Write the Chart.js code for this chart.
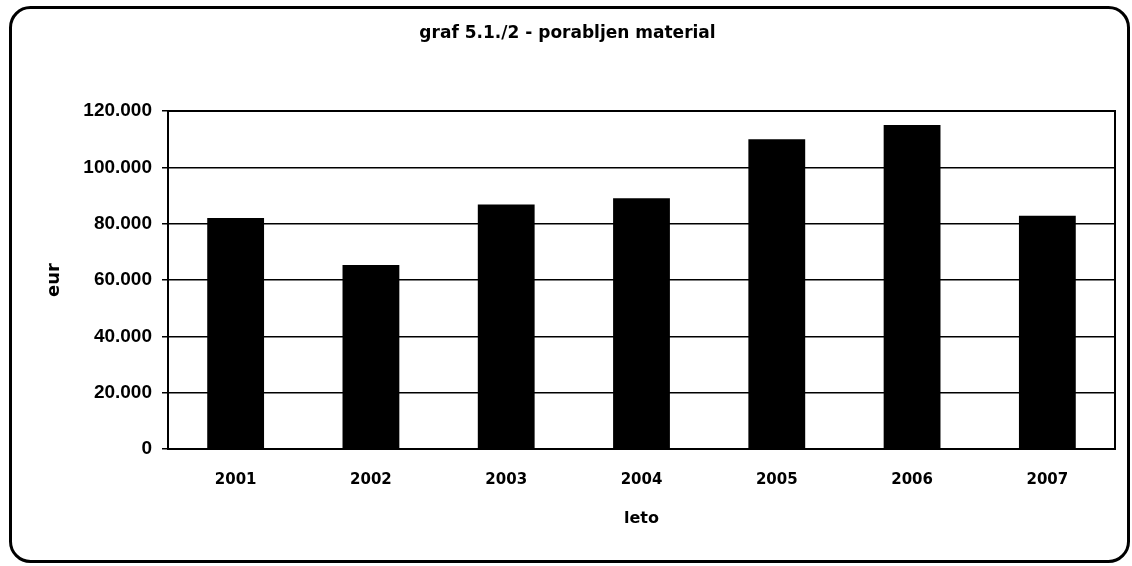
<!DOCTYPE html>
<html>
<head>
<meta charset="utf-8">
<script src="https://cdn.jsdelivr.net/npm/chart.js@4"></script>
<style>
  html, body { margin: 0; padding: 0; background: #fff; }
  canvas { display: block; }
</style>
</head>
<body>
<canvas id="c" width="1132" height="566"></canvas>
<script>
const titleText = 'graf 5.1./2 - porabljen material';
const xTitle = 'leto';
const yTitle = 'eur';
const categories = ['2001', '2002', '2003', '2004', '2005', '2006', '2007'];
const values = [82000, 65300, 86800, 89000, 110000, 115000, 82800];
const yMin = 0;
const yMax = 120000;
const yStep = 20000;

function fmt(v) {
  return String(v).replace(/\B(?=(\d{3})+(?!\d))/g, '.');
}

const frame = {
  id: 'frame',
  beforeDatasetsDraw(chart) {
    const a = chart.chartArea, ctx = chart.ctx;
    ctx.save();
    ctx.strokeStyle = '#000';
    ctx.lineWidth = 2;
    ctx.beginPath();
    ctx.moveTo(a.left, a.top);
    ctx.lineTo(a.right, a.top);
    ctx.lineTo(a.right, a.bottom);
    ctx.stroke();
    ctx.restore();
  },
  afterDraw(chart) {
    const ctx = chart.ctx;
    ctx.save();
    ctx.strokeStyle = '#000';
    ctx.lineWidth = 3;
    ctx.beginPath();
    ctx.roundRect(10.5, 7.5, 1118, 554, 20);
    ctx.stroke();
    ctx.restore();
  }
};

new Chart(document.getElementById('c'), {
  type: 'bar',
  data: {
    labels: categories,
    datasets: [{
      data: values,
      backgroundColor: '#000',
      borderWidth: 0,
      barPercentage: 0.42,
      categoryPercentage: 1.0
    }]
  },
  options: {
    responsive: false,
    animation: false,
    layout: { padding: { left: 20, right: 17, top: 0, bottom: 0 } },
    plugins: {
      legend: { display: false },
      tooltip: { enabled: false },
      title: {
        display: true,
        text: titleText,
        color: '#000',
        font: { family: 'DejaVu Sans', weight: 'bold', size: 17 },
        padding: { top: 23, bottom: 67.6 }
      }
    },
    scales: {
      x: {
        grid: { display: false },
        border: { display: true, color: '#000', width: 2 },
        ticks: {
          color: '#000',
          font: { family: 'DejaVu Sans', weight: 'bold', size: 15 },
          padding: 14,
          maxRotation: 0
        },
        title: {
          display: true,
          text: xTitle,
          color: '#000',
          font: { family: 'DejaVu Sans', weight: 'bold', size: 16 },
          padding: { top: 0, bottom: 38 }
        },
        afterFit(scale) { scale.height = 117; }
      },
      y: {
        min: yMin,
        max: yMax,
        ticks: {
          stepSize: yStep,
          color: '#000',
          font: { family: 'Liberation Sans', weight: 'bold', size: 19 },
          padding: 10,
          callback: (v) => fmt(v)
        },
        grid: { color: '#000', lineWidth: 1.5, tickLength: 6 },
        border: { display: true, color: '#000', width: 2 },
        title: {
          display: true,
          text: yTitle,
          color: '#000',
          font: { family: 'DejaVu Sans', weight: 'bold', size: 18 },
          padding: { top: 24, bottom: 0 }
        },
        afterFit(scale) { scale.width = 148; }
      }
    }
  },
  plugins: [frame]
});
</script>
</body>
</html>
